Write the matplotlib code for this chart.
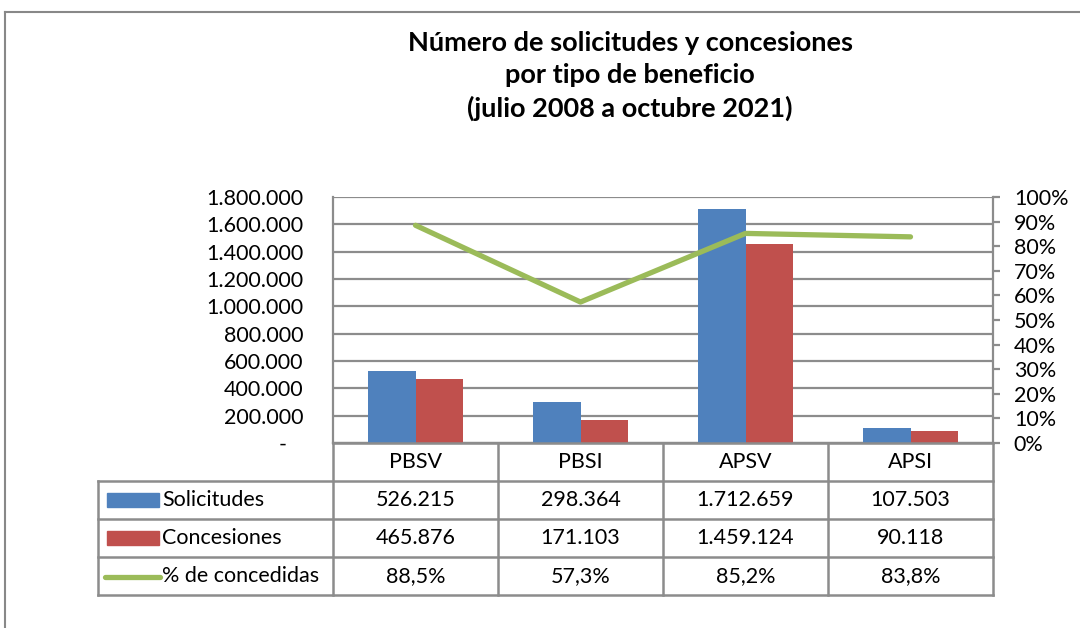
import matplotlib.pyplot as plt
from matplotlib.lines import Line2D
from matplotlib.patches import Rectangle
import numpy as np

# data
categories = ['PBSV', 'PBSI', 'APSV', 'APSI']
solicitudes = [526215, 298364, 1712659, 107503]
concesiones = [465876, 171103, 1459124, 90118]
pct_concedidas = [88.5, 57.3, 85.2, 83.8]
series_names = ['Solicitudes', 'Concesiones', '% de concedidas']
title = 'Número de solicitudes y concesiones\npor tipo de beneficio\n(julio 2008 a octubre 2021)'

c_blue = '#4F81BD'
c_red = '#C0504D'
c_green = '#9BBB59'
c_grid = '#8C8C8C'
fs = 15.5

plt.rcParams['font.family'] = ['Lato', 'DejaVu Sans']

W, H = 1080, 628
fig = plt.figure(figsize=(W / 100, H / 100), dpi=100)

def fbox(x0, y0, x1, y1):
    # pixel box (top-left origin) -> figure fraction rect
    return [x0 / W, 1 - y1 / H, (x1 - x0) / W, (y1 - y0) / H]

def thousands(v):
    return f'{v:,.0f}'.replace(',', '.')

# outer frame
fig.add_artist(Line2D([5 / W, 1], [1 - 12 / H, 1 - 12 / H], color='#888888', lw=1.5))
fig.add_artist(Line2D([5 / W, 5 / W], [0, 1 - 12 / H], color='#888888', lw=1.5))

# title
fig.text(630 / W, 1 - 76 / H, title, ha='center', va='center', fontsize=19.5,
         fontweight='bold', linespacing=1.4)

# main plot area
ax = fig.add_axes(fbox(333, 197, 993, 443))
x = np.arange(len(categories))
bw = 1 / 3.5
ax.bar(x - bw / 2, solicitudes, bw, color=c_blue, zorder=3)
ax.bar(x + bw / 2, concesiones, bw, color=c_red, zorder=3)
ax.set_xlim(-0.5, len(categories) - 0.5)
ax.set_ylim(0, 1800000)
ax.set_yticks(np.arange(0, 1800001, 200000))
ax.set_yticklabels([thousands(v) if v else '-   ' for v in np.arange(0, 1800001, 200000)],
                   fontsize=fs)
ax.tick_params(axis='y', length=0, pad=21.5)
ax.set_xticks([])
ax.grid(axis='y', color=c_grid, lw=1.6, zorder=0)
for s in ['top', 'right']:
    ax.spines[s].set_visible(False)
ax.spines['left'].set_color(c_grid)
ax.spines['left'].set_linewidth(1.6)
ax.spines['bottom'].set_color(c_grid)
ax.spines['bottom'].set_linewidth(1.6)

ax2 = ax.twinx()
ax2.plot(x, pct_concedidas, color=c_green, lw=3.8, solid_capstyle='round', zorder=4)
ax2.set_ylim(0, 100)
ax2.set_yticks(np.arange(0, 101, 10))
ax2.set_yticklabels([f'{v}%' for v in range(0, 101, 10)], fontsize=fs)
ax2.tick_params(axis='y', length=5, width=1.6, color=c_grid, pad=10)
for s in ['top', 'left', 'bottom']:
    ax2.spines[s].set_visible(False)
ax2.spines['right'].set_color(c_grid)
ax2.spines['right'].set_linewidth(1.6)

# data table below the plot
tx0, tx1 = 98, 993
tax = fig.add_axes(fbox(tx0, 443, tx1, 595))
left_units = (333 - tx0) / 165
tax.set_xlim(-0.5 - left_units, len(categories) - 0.5)
tax.set_ylim(4, 0)
tax.axis('off')
lkw = dict(color=c_grid, lw=1.8, clip_on=False)
xl = -0.5 - left_units
# horizontal lines
tax.plot([-0.5, 3.5], [0, 0], **lkw)
for r in [1, 2, 3, 4]:
    tax.plot([xl, 3.5], [r, r], **lkw)
# vertical lines
for b in np.arange(-0.5, len(categories), 1):
    tax.plot([b, b], [0, 4], **lkw)
tax.plot([xl, xl], [1, 4], **lkw)

for i, c in enumerate(categories):
    tax.text(i, 0.5, c, ha='center', va='center', fontsize=fs)
    tax.text(i, 1.5, thousands(solicitudes[i]), ha='center', va='center', fontsize=fs)
    tax.text(i, 2.5, thousands(concesiones[i]), ha='center', va='center', fontsize=fs)
    tax.text(i, 3.5, f'{pct_concedidas[i]:.1f}%'.replace('.', ','), ha='center',
             va='center', fontsize=fs)

# legend keys inside the table
kx0 = xl + 9 / 165
kx1 = xl + 61 / 165
tax.add_patch(Rectangle((kx0, 1.32), kx1 - kx0, 0.36, color=c_blue, clip_on=False))
tax.add_patch(Rectangle((kx0, 2.32), kx1 - kx0, 0.36, color=c_red, clip_on=False))
tax.plot([xl + 7 / 165, kx1 + 1 / 165], [3.53, 3.53], color=c_green, lw=3.8,
         solid_capstyle='round', clip_on=False)
for r, name in enumerate(series_names):
    tax.text(kx1 + 3 / 165, r + 1.5, name, ha='left', va='center', fontsize=fs)

fig.savefig('out.png', dpi=100)
